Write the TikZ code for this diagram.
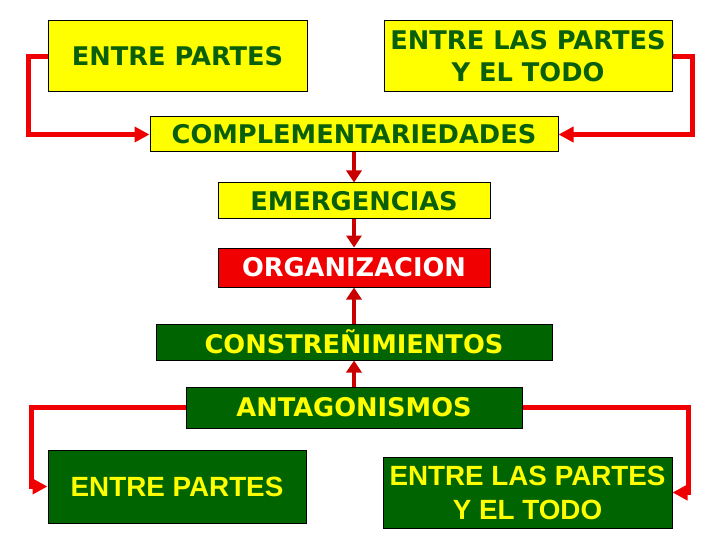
\documentclass[tikz,border=0pt]{standalone}
\usepackage{fontspec}
\setmainfont{DejaVu Sans}
\newfontfamily\lowfont{Liberation Sans}
\usetikzlibrary{arrows.meta}
\definecolor{ylw}{RGB}{255,255,0}
\definecolor{dgreen}{RGB}{0,100,0}
\definecolor{tgreen}{RGB}{10,95,10}
\definecolor{brred}{RGB}{240,0,0}
\definecolor{dred}{RGB}{200,0,0}
\tikzset{
  boxy/.style={draw=black, line width=1pt, fill=ylw, text=tgreen, font=\bfseries\fontsize{25.7}{32}\selectfont, align=center, inner sep=0pt},
  boxg/.style={draw=black, line width=1pt, fill=dgreen, text=ylw, font=\bfseries\fontsize{25.7}{32}\selectfont, align=center, inner sep=0pt},
  boxgl/.style={boxg, font=\lowfont\bfseries\fontsize{27.8}{34}\selectfont},
  boxr/.style={draw=black, line width=1pt, fill=brred, text=white, font=\bfseries\fontsize{25.7}{32}\selectfont, align=center, inner sep=0pt},
  redconn/.style={draw=brred, line width=5pt, -{Triangle[length=15pt,width=15pt]}},
  darrow/.style={draw=dred, line width=4pt, -{Triangle[length=12pt,width=15pt]}}
}
\begin{document}
\begin{tikzpicture}[x=1pt,y=-1pt]
\useasboundingbox (0,0) rectangle (720,540);
\fill[white] (0,0) rectangle (720,540);
\node[boxy, minimum width=259pt, minimum height=71pt] (tl) at (177.5,56.5) {ENTRE PARTES};
\node[boxy, minimum width=288pt, minimum height=71pt] (tr) at (528,56.5) {ENTRE LAS PARTES\\Y EL TODO};
\node[boxy, minimum width=408pt, minimum height=35pt] (comp) at (354,134.5) {COMPLEMENTARIEDADES};
\node[boxy, minimum width=272pt, minimum height=36pt] (em) at (354,201) {EMERGENCIAS};
\node[boxr, minimum width=272pt, minimum height=39pt] (org) at (354,267.5) {ORGANIZACION};
\node[boxg, minimum width=396pt, minimum height=36pt] (con) at (354,342) {CONSTREÑIMIENTOS};
\node[boxg, minimum width=336pt, minimum height=41pt] (ant) at (354,407.5) {ANTAGONISMOS};
\node[boxgl, minimum width=258pt, minimum height=73pt] (bl) at (177,486.5) {ENTRE PARTES};
\node[boxgl, minimum width=289pt, minimum height=71pt] (br) at (527.5,492.5) {ENTRE LAS PARTES\\Y EL TODO};
% red connectors
\draw[redconn] (tl.west) -- ++(-19,0) |- (comp.west);
\draw[redconn] (tr.east) -- ++(20,0) |- (comp.east);
\draw[redconn] (ant.west) -- ++(-154,0) |- (bl.west);
\draw[redconn] (ant.east) -- ++(166,0) |- (br.east);
% vertical arrows
\draw[darrow] (comp.south) -- (em.north);
\draw[darrow] (em.south) -- (org.north);
\draw[darrow] (con.north) -- (org.south);
\draw[darrow] (ant.north) -- (con.south);
\end{tikzpicture}
\end{document}
